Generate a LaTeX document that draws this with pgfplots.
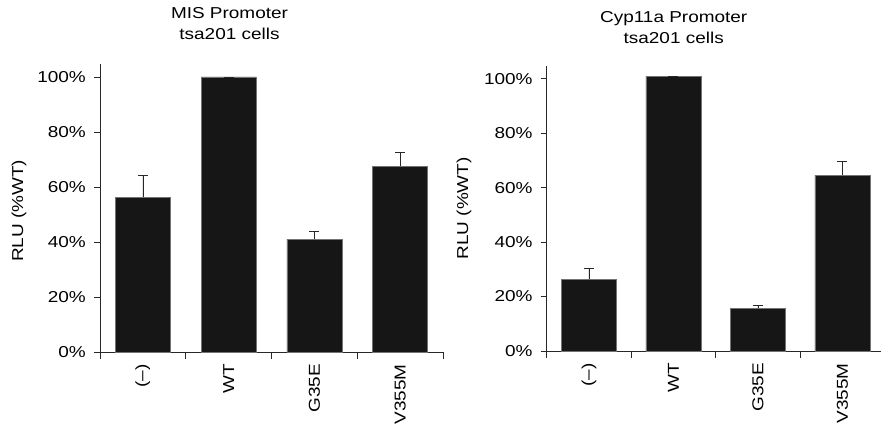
\documentclass[border=0pt]{standalone}
\usepackage{fontspec}
\setmainfont{Liberation Sans}[FakeStretch=1.2]
\usepackage{pgfplots}
\pgfplotsset{compat=1.18}
\definecolor{barc}{RGB}{22,22,22}
\definecolor{axc}{RGB}{40,40,40}
\pgfplotsset{
  myax/.style={
    scale only axis,
    anchor=south west,
    xmin=-0.5, xmax=3.5, ymin=0,
    axis x line=bottom, axis y line=left,
    axis line style={-, draw=axc, line width=0.8bp},
    tick style={draw=axc, line width=0.8bp},
    tick align=outside,
    xtick={0,1,2,3},
    major x tick style={draw=none},
    minor xtick={-0.5,0.5,1.5,2.5,3.5},
    minor tick length=7bp,
    major tick length=6bp,
    xticklabels={(--),WT,G35E,V355M},
    xticklabel style={rotate=90, anchor=east, inner sep=0pt, xshift=-6bp},
    ytick={0,20,40,60,80,100},
    yticklabels={0\%,20\%,40\%,60\%,80\%,100\%},
    yticklabel style={inner sep=0pt, xshift=-8bp},
    title style={align=center, anchor=south, inner sep=0pt, text depth=0pt},
    clip=false,
  },
  mybar/.style={
    ybar, bar width=55bp, fill=barc, draw=barc!60!white, line width=0.4bp,
    error bars/.cd, y dir=plus, y explicit,
    error bar style={draw=axc, line width=0.7bp},
    error mark options={rotate=90, draw=axc, line width=0.7bp, mark size=5bp},
  },
}
\begin{document}
\begin{tikzpicture}[x=1bp,y=1bp,font=\fontsize{15.8bp}{21bp}\selectfont]
\useasboundingbox (0,0) rectangle (881,423);
\begin{axis}[myax,
  at={(100bp,71bp)}, width=343bp, height=288bp, ymax=104.7,
  title={MIS Promoter\\tsa201 cells},
  title style={at={(axis description cs:0.5,1)}, xshift=-42bp, yshift=18bp},
  ylabel={RLU (\%WT)},
  every axis y label/.style={at={(axis description cs:-0.236,0.49)}, rotate=90, anchor=center},
]
\addplot[mybar] coordinates {
  (0,56.2) +- (0,8.0)
  (1,100.0) +- (0,0)
  (2,41.0) +- (0,2.9)
  (3,67.6) +- (0,4.9)
};
\end{axis}
\begin{axis}[myax,
  at={(546.7bp,72bp)}, width=338bp, height=285.3bp, ymax=104.8,
  title={Cyp11a Promoter\\tsa201 cells},
  title style={at={(axis description cs:0.5,1)}, xshift=-42bp, yshift=16bp},
  ylabel={RLU (\%WT)},
  every axis y label/.style={at={(axis description cs:-0.2447,0.5)}, rotate=90, anchor=center},
]
\addplot[mybar] coordinates {
  (0,26.3) +- (0,4.1)
  (1,100.9) +- (0,0)
  (2,15.7) +- (0,1.1)
  (3,64.6) +- (0,5.2)
};
\end{axis}
\end{tikzpicture}
\end{document}
